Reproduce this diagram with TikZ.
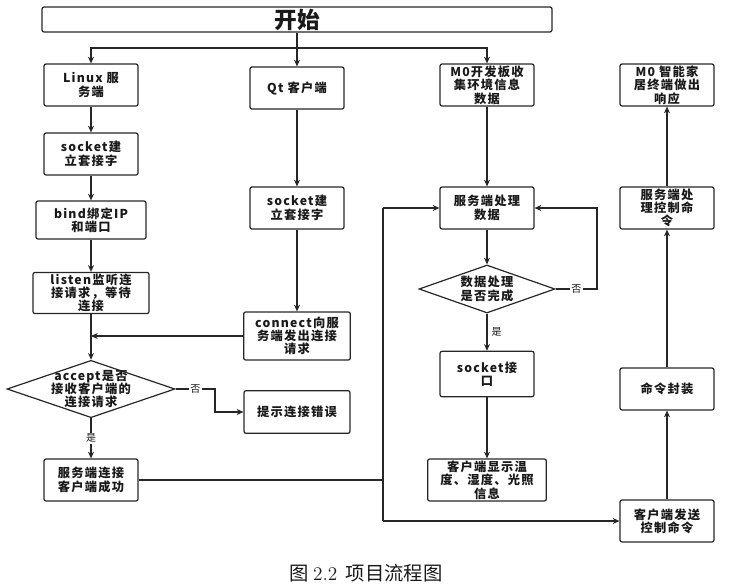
\documentclass[tikz,border=0pt]{standalone}
\usepackage{fontspec}
\newfontfamily\cjk{Noto Sans CJK SC}
\newfontfamily\cjkbox[LetterSpace=10]{Noto Sans CJK SC}
\usepackage{tikz}
\usetikzlibrary{shapes.geometric,arrows.meta}

\begin{document}
\begin{tikzpicture}[x=0.75pt, y=-0.75pt, line width=0.9pt, draw=black!85,
    >={Stealth[length=5pt,width=4.5pt]},
    every node/.style={font=\cjkbox\bfseries\fontsize{9.2}{10}\selectfont, align=center, text=black!90},
    box/.style={draw, rounded corners=1.5pt, minimum width=70.5pt, minimum height=31.5pt, inner sep=1pt},
    dec/.style={draw, diamond, inner sep=0pt},
    tag/.style={fill=white, inner sep=1pt, font=\cjk\fontsize{7.5}{8}\selectfont}]
      \useasboundingbox (0,0) rectangle (740,587);

      \coordinate (split) at (297,48);
      \coordinate (nobend) at (215,389);
      \coordinate (loopr) at (597,289);
      \coordinate (bustop) at (383,208);
      \coordinate (busbot) at (383,521);

      \node[box, minimum width=382.5pt, minimum height=18.75pt, inner sep=0.5pt,
        font=\cjk\bfseries\fontsize{17}{18}\selectfont] (start) at (297,19.5) {开始};

      \node[box] (linux) at (91,85) {Linux 服\\务端};
      \node[box] (sock1) at (91,154) {socket建\\立套接字};
      \node[box, minimum width=82.5pt, minimum height=28.5pt] (bind) at (91,220) {bind绑定IP\\和端口};
      \node[box, minimum width=87pt, minimum height=30.75pt] (listen) at (91,293) {listen监听连\\接请求，等待\\连接};
      \node[dec, minimum width=126pt, minimum height=43pt] (acc) at (91,389) {};
      \node at (acc) {accept是否\\接收客户端的\\连接请求};
      \node[box] (ok) at (91,480) {服务端连接\\客户端成功};

      \node[box] (qt) at (297,88) {Qt 客户端};
      \node[box] (sock2) at (297,208) {socket建\\立套接字};
      \node[box, minimum width=80pt, minimum height=36pt] (conn) at (297,336) {connect向服\\务端发出连接\\请求};
      \node[box, minimum width=79.5pt, minimum height=32pt] (err) at (297,412) {提示连接错误};

      \node[box] (m0) at (487,85) {M0开发板收\\集环境信息\\数据};
      \node[box] (proc) at (487,208) {服务端处理\\数据};
      \node[dec, minimum width=102pt, minimum height=36pt] (chk) at (487,289) {};
      \node at (chk) {数据处理\\是否完成};
      \node[box, minimum height=34pt] (sockif) at (487,374) {socket接\\口};
      \node[box, minimum width=89pt] (show) at (487,480) {客户端显示温\\度、湿度、光照\\信息};

      \node[box] (resp) at (667,85) {M0 智能家\\居终端做出\\响应};
      \node[box] (srvcmd) at (667,208) {服务端处\\理控制命\\令};
      \node[box] (pack) at (667,389) {命令封装};
      \node[box] (send) at (667,521) {客户端发送\\控制命令};

      \node[font=\cjk\fontsize{14.5}{16}\selectfont] (cap) at (366,573) {图\ {\rmfamily 2.2}\ \ 项目流程图};

      \draw[->] (start.south -| qt.north) -- (qt.north);
      \draw[->] (split) -| (linux.north);
      \draw[->] (split) -| (m0.north);

      \draw[->] (linux) -- (sock1);
      \draw[->] (sock1) -- (bind);
      \draw[->] (bind) -- (listen);
      \draw[->] (listen) -- (acc);
      \draw[->] (acc.east) -- node[tag]{否} (nobend) |- (err.west);
      \draw[->] (acc) -- node[tag]{是} (ok);

      \draw[->] (qt) -- (sock2);
      \draw[->] (sock2) -- (conn);
      \draw[->] (conn.west) -- (conn.west -| listen.south);

      \draw (ok.east) -- (ok.east -| bustop);
      \draw (bustop) -- (busbot);
      \draw[->] (bustop) -- (proc.west);
      \draw[->] (busbot) -- (send.west);

      \draw[->] (m0) -- (proc);
      \draw[->] (proc) -- (chk);
      \draw[->] (chk.east) -- node[tag]{否} (loopr) |- (proc.east);
      \draw[->] (chk) -- node[tag, right=2pt]{是} (sockif);
      \draw[->] (sockif) -- (show);

      \draw[->] (send) -- (pack);
      \draw[->] (pack) -- (srvcmd);
      \draw[->] (srvcmd) -- (resp);
    \end{tikzpicture}
\end{document}
